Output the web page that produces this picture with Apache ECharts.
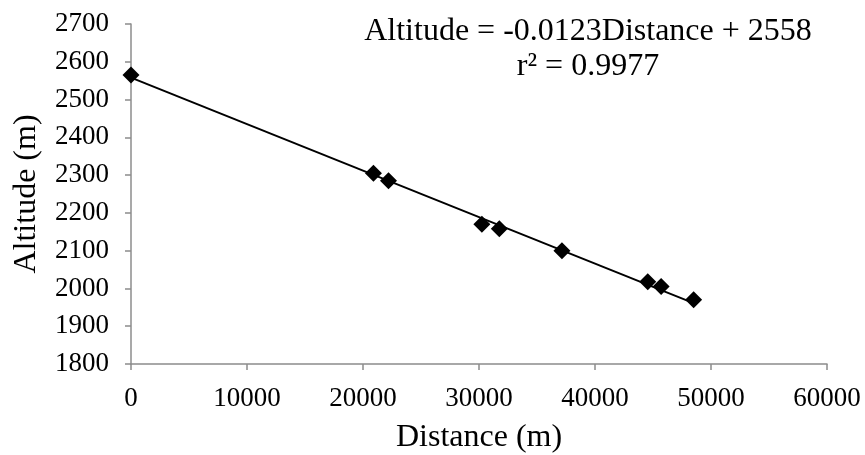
<!DOCTYPE html>
<html>
<head>
<meta charset="utf-8">
<script src="https://cdn.jsdelivr.net/npm/echarts@6/dist/echarts.min.js"></script>
<style>
  html, body { margin: 0; padding: 0; background: #fff; }
  #chart { width: 865px; height: 455px; }
</style>
</head>
<body>
<div id="chart"></div>
<script>
// measured points: distance (m) vs altitude (m)
const distance = [0, 20900, 22200, 30250, 31750, 37150, 44550, 45700, 48500];
const altitude = [2565, 2305, 2285, 2170, 2158, 2100, 2018, 2005, 1970];

// linear trend line end points
const trendX = [0, 48500];
const trendY = [2558, 1961];

const equationText = "Altitude = -0.0123Distance + 2558";
const r2Text = "r\u00b2 = 0.9977";

const font = "'Liberation Serif', 'DejaVu Serif', serif";
const axisGray = "#8c8c8c";

const chart = echarts.init(document.getElementById("chart"));

const points = distance.map((d, i) => [d, altitude[i]]);
const trend = trendX.map((d, i) => [d, trendY[i]]);

const option = {
  backgroundColor: "#fff",
  animation: false,
  grid: { left: 131, right: 38, top: 24, bottom: 91, outerBoundsMode: "none", containLabel: false },
  xAxis: {
    type: "value",
    min: 0,
    max: 60000,
    interval: 10000,
    name: "Distance (m)",
    nameLocation: "middle",
    nameGap: 58,
    nameTextStyle: { fontFamily: font, fontSize: 32, color: "#000" },
    axisLine: { show: true, lineStyle: { color: axisGray, width: 1.5 } },
    axisTick: { show: true, inside: false, length: 6, lineStyle: { color: axisGray, width: 1.5 } },
    axisLabel: { fontFamily: font, fontSize: 27, color: "#000", margin: 21, formatter: (v) => String(v) },
    splitLine: { show: false },
  },
  yAxis: {
    type: "value",
    min: 1800,
    max: 2700,
    interval: 100,
    name: "Altitude (m)",
    nameLocation: "middle",
    nameGap: 88,
    nameTextStyle: { fontFamily: font, fontSize: 32, color: "#000" },
    axisLine: { show: true, lineStyle: { color: axisGray, width: 1.5 } },
    axisTick: { show: true, inside: false, length: 6, lineStyle: { color: axisGray, width: 1.5 } },
    axisLabel: { fontFamily: font, fontSize: 27, color: "#000", margin: 22, formatter: (v) => String(v) },
    splitLine: { show: false },
  },
  series: [
    {
      name: "Trend",
      type: "line",
      data: trend,
      symbol: "none",
      lineStyle: { color: "#000", width: 2 },
      z: 2,
    },
    {
      name: "Altitude",
      type: "scatter",
      data: points,
      symbol: "diamond",
      symbolSize: [17, 17],
      itemStyle: { color: "#000", opacity: 1 },
      z: 3,
    },
  ],
  graphic: [
    {
      type: "text",
      x: 588,
      y: 32,
      style: { text: equationText, font: "32px " + font, fill: "#000", align: "center", verticalAlign: "middle" },
    },
    {
      type: "text",
      x: 588,
      y: 67,
      style: { text: r2Text, font: "32px " + font, fill: "#000", align: "center", verticalAlign: "middle" },
    },
  ],
};

chart.setOption(option);
</script>
</body>
</html>
